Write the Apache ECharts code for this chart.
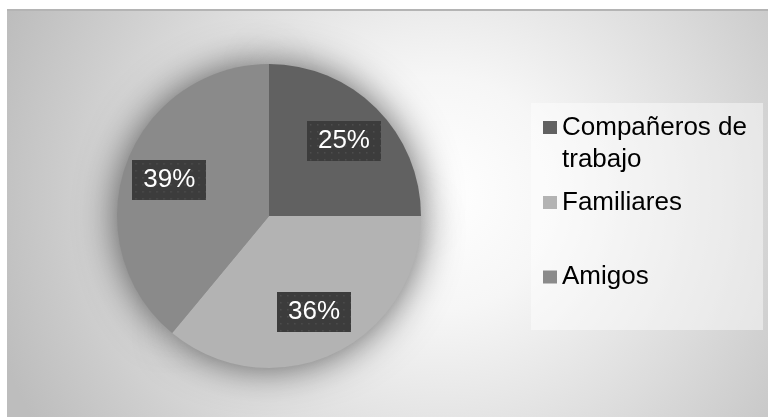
<!DOCTYPE html>
<html>
<head>
<meta charset="utf-8">
<script src="https://cdn.jsdelivr.net/npm/echarts@6/dist/echarts.min.js"></script>
<style>
html,body{margin:0;padding:0;background:#ffffff;}
#chart{width:768px;height:417px;}
</style>
</head>
<body>
<div id="chart"></div>
<script>
// ---- data ----
var categories = ['Compañeros de trabajo', 'Familiares', 'Amigos'];
var legendLabels = ['\u00a0\nCompañeros de\ntrabajo', 'Familiares', 'Amigos'];
var values = [25, 36, 39];
var colors = ['#616161', '#b3b3b3', '#8a8a8a'];

// dotted label background
function makePattern(w, h) {
  var c = document.createElement('canvas');
  c.width = w; c.height = h;
  var ctx = c.getContext('2d');
  ctx.fillStyle = '#3c3c3c';
  ctx.fillRect(0, 0, w, h);
  ctx.fillStyle = '#4f4f4f';
  for (var y = 3; y < h; y += 7) {
    for (var x = 3; x < w; x += 7) {
      ctx.fillRect(x, y, 1.5, 1.5);
    }
  }
  return c;
}
var labelBg = makePattern(74, 40);

var chart = echarts.init(document.getElementById('chart'), null, {renderer: 'canvas'});

var pieData = categories.map(function (n, i) {
  return {name: n, value: values[i], itemStyle: {color: colors[i]}};
});
var plainData = categories.map(function (n, i) {
  return {name: n, value: values[i]};
});

var legendTops = [79.5, 186.5, 261];
var legends = categories.map(function (n, i) {
  return {
    orient: 'vertical',
    left: 543,
    top: legendTops[i],
    padding: 0,
    itemWidth: 14,
    itemHeight: 13,
    icon: 'rect',
    selectedMode: false,
    data: [{name: n, itemStyle: {color: colors[i]}}],
    formatter: function () { return legendLabels[i]; },
    textStyle: {
      fontFamily: 'Liberation Sans, Arial, sans-serif',
      fontSize: 26,
      lineHeight: 32,
      color: '#000000'
    }
  };
});

var option = {
  animation: false,
  graphic: [
    {
      type: 'rect', z: 0, silent: true,
      shape: {x: 7, y: 11, width: 761, height: 406},
      style: {
        fill: new echarts.graphic.RadialGradient(0.57, 0.45, 1.15, [
          {offset: 0, color: '#ffffff'},
          {offset: 0.25, color: '#f6f6f6'},
          {offset: 0.6, color: '#dcdcdc'},
          {offset: 1, color: '#bdbdbd'}
        ])
      }
    },
    {
      type: 'rect', z: 0, silent: true,
      shape: {x: 7, y: 9, width: 761, height: 2},
      style: {fill: '#b4b4b4'}
    },
    {
      type: 'rect', z: 1, silent: true,
      shape: {x: 531, y: 103, width: 232, height: 227},
      style: {fill: 'rgba(255,255,255,0.45)'}
    }
  ],
  legend: legends,
  series: [
    {
      type: 'pie',
      z: 3,
      silent: true,
      center: [269, 216],
      radius: [0, 152],
      startAngle: 90,
      label: {show: false},
      labelLine: {show: false},
      data: pieData
    },
    {
      type: 'pie',
      z: 2,
      silent: true,
      center: [269, 216],
      radius: [0, 151],
      startAngle: 90,
      label: {show: false},
      labelLine: {show: false},
      itemStyle: {
        color: '#9a9a9a',
        shadowBlur: 40,
        shadowColor: 'rgba(0,0,0,0.65)'
      },
      data: plainData
    },
    {
      type: 'pie',
      z: 4,
      silent: true,
      center: [269, 216],
      radius: [54, 152],
      startAngle: 90,
      itemStyle: {color: 'rgba(0,0,0,0)'},
      labelLine: {show: false},
      label: {
        show: true,
        position: 'inside',
        overflow: 'none',
        formatter: function (p) { return p.value + '%'; },
        fontFamily: 'Liberation Sans, Arial, sans-serif',
        fontSize: 26,
        lineHeight: 24,
        color: '#ffffff',
        backgroundColor: {image: labelBg},
        padding: [8, 11, 8, 11],
        shadowBlur: 6,
        shadowOffsetX: 3,
        shadowOffsetY: 3,
        shadowColor: 'rgba(0,0,0,0.45)'
      },
      data: plainData
    }
  ]
};
chart.setOption(option);
</script>
</body>
</html>
